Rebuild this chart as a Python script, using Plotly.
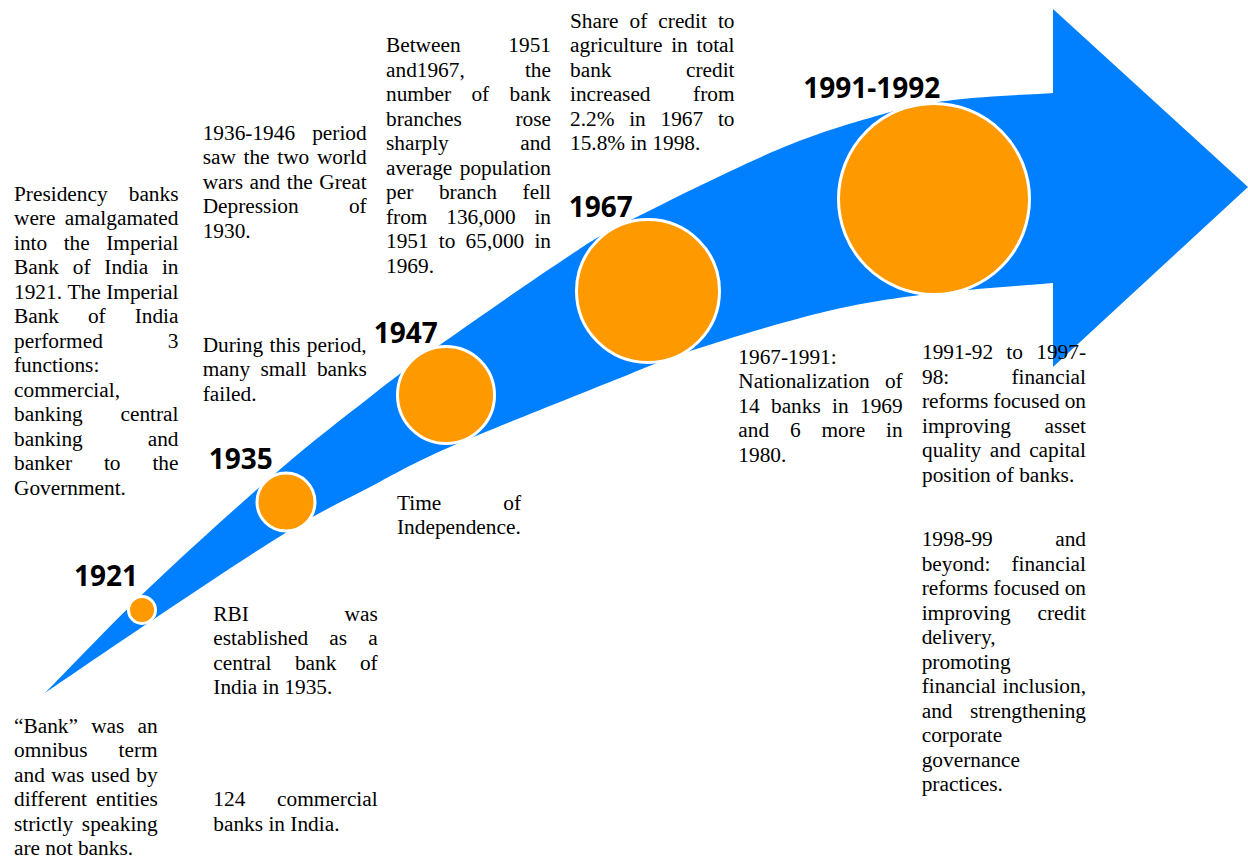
import plotly.graph_objects as go

# ---------------- data ----------------
years = ["1921", "1935", "1947", "1967", "1991-1992"]

presidency_lines = ["Presidency banks", "were amalgamated", "into the Imperial", "Bank of India in",
                    "1921. The Imperial", "Bank of India", "performed 3", "functions:", "commercial,",
                    "banking central", "banking and", "banker to the", "Government."]
bank_term_lines = ["\u201cBank\u201d was an", "omnibus term", "and was used by", "different entities",
                   "strictly speaking", "are not banks."]
wars_lines = ["1936-1946 period", "saw the two world", "wars and the Great", "Depression of", "1930."]
failed_lines = ["During this period,", "many small banks", "failed."]
rbi_lines = ["RBI was", "established as a", "central bank of", "India in 1935."]
commercial_lines = ["124 commercial", "banks in India."]
branches_lines = ["Between 1951", "and1967, the", "number of bank", "branches rose", "sharply and",
                  "average population", "per branch fell", "from 136,000 in", "1951 to 65,000 in", "1969."]
independence_lines = ["Time of", "Independence."]
agri_lines = ["Share of credit to", "agriculture in total", "bank credit", "increased from",
              "2.2% in 1967 to", "15.8% in 1998."]
national_lines = ["1967-1991:", "Nationalization of", "14 banks in 1969", "and 6 more in", "1980."]
reform1_lines = ["1991-92 to 1997-", "98: financial", "reforms focused on", "improving asset",
                 "quality and capital", "position of banks."]
reform2_lines = ["1998-99 and", "beyond: financial", "reforms focused on", "improving credit",
                 "delivery,", "promoting", "financial inclusion,", "and strengthening", "corporate",
                 "governance", "practices."]

# ---------------- layout / styling (pixel space) ----------------
W_PX, H_PX = 1248, 861
BLUE = "#0080FF"
ORANGE = "#FF9900"
BODY_FONT = "Liberation Serif, Times New Roman, serif"
BODY_SIZE = 21.33
LINE_STEP = 24.5
YEAR_FONT = "Open Sans, sans-serif"
YEAR_SIZE = 28

circle_pos = [(142, 610), (286, 502), (446, 395), (648, 291), (934, 199)]
circle_outer = [30, 61, 100, 146, 194]
year_label_pos = [(106, 586), (240.8, 469.3), (405.8, 343.3), (600.8, 216.7), (871.7, 98.3)]  # baselines

# (lines, left, right, first baseline)
blocks = [
    (presidency_lines, 14, 178.5, 200.7),
    (bank_term_lines, 14, 157.7, 733),
    (wars_lines, 202.7, 366.7, 140),
    (failed_lines, 202.7, 366.7, 352),
    (rbi_lines, 213.3, 377.7, 620.6),
    (commercial_lines, 213.3, 377.7, 806.5),
    (branches_lines, 386, 551, 52.3),
    (independence_lines, 397, 521, 510),
    (agri_lines, 570, 734.5, 27.8),
    (national_lines, 738.3, 902.7, 364),
    (reform1_lines, 922, 1086, 359.5),
    (reform2_lines, 921.7, 1086, 546.5),
]

# arrow outline (pixel space)
arrow_upper = [(45, 693), (150, 587), (277, 472), (370, 397), (437, 347), (563, 260), (627, 222),
               (777, 150), (880, 115), (953, 100), (1053, 93)]
arrow_lower = [(45, 693), (157, 617), (287, 532), (370, 487), (450, 447), (620, 378), (693, 350),
               (820, 313), (920, 295), (1053, 283)]
head = [(1053, 9), (1248, 187), (1053, 367)]

# Times New Roman advance widths (em)
CW = {' ': .25, 'a': .444, 'b': .5, 'c': .444, 'd': .5, 'e': .444, 'f': .333, 'g': .5, 'h': .5, 'i': .278,
      'j': .278, 'k': .5, 'l': .278, 'm': .778, 'n': .5, 'o': .5, 'p': .5, 'q': .5, 'r': .333, 's': .389,
      't': .278, 'u': .5, 'v': .5, 'w': .722, 'x': .5, 'y': .5, 'z': .444,
      'A': .722, 'B': .667, 'C': .667, 'D': .722, 'E': .611, 'F': .556, 'G': .722, 'H': .722, 'I': .333,
      'J': .389, 'K': .722, 'L': .611, 'M': .889, 'N': .722, 'O': .722, 'P': .556, 'Q': .722, 'R': .667,
      'S': .556, 'T': .611, 'U': .722, 'V': .722, 'W': .944, 'X': .722, 'Y': .722, 'Z': .611,
      '.': .25, ',': .25, ':': .278, '-': .333, '%': .833, '\u201c': .444, '\u201d': .444}


def text_w(s):
    return sum(CW.get(c, .5) for c in s) * BODY_SIZE


def cr_path(pts):
    """Smooth path through points (Catmull-Rom as cubic Beziers), without the initial move."""
    segs = []
    n = len(pts)
    for i in range(n - 1):
        p0 = pts[i - 1] if i > 0 else pts[i]
        p1 = pts[i]
        p2 = pts[i + 1]
        p3 = pts[i + 2] if i + 2 < n else pts[i + 1]
        c1 = (p1[0] + (p2[0] - p0[0]) / 6, p1[1] + (p2[1] - p0[1]) / 6)
        c2 = (p2[0] - (p3[0] - p1[0]) / 6, p2[1] - (p3[1] - p1[1]) / 6)
        segs.append(f"C {c1[0]:.2f},{c1[1]:.2f} {c2[0]:.2f},{c2[1]:.2f} {p2[0]:.2f},{p2[1]:.2f}")
    return " ".join(segs)


path = f"M {arrow_upper[0][0]},{arrow_upper[0][1]} " + cr_path(arrow_upper)
for hx, hy in head:
    path += f" L {hx},{hy}"
low_rev = arrow_lower[::-1]
path += f" L {low_rev[0][0]},{low_rev[0][1]} " + cr_path(low_rev) + " Z"

# word placement (justified like the source document)
sx, sy, st = [], [], []  # start anchored
ex, ey, et = [], [], []  # end anchored
shift = 0.25 * BODY_SIZE
for lines, left, right, base0 in blocks:
    for i, line in enumerate(lines):
        y = base0 + i * LINE_STEP - shift
        words = line.split()
        if i == len(lines) - 1 or len(words) == 1:
            sx.append(left); sy.append(y); st.append(line)
            continue
        widths = [text_w(w) for w in words]
        gap = (right - left - sum(widths)) / (len(words) - 1)
        x = left
        for k, w in enumerate(words):
            if k == len(words) - 1:
                ex.append(right); ey.append(y); et.append(w)
            else:
                sx.append(x); sy.append(y); st.append(w)
            x += widths[k] + gap

fig = go.Figure()
fig.add_shape(type="path", path=path, fillcolor=BLUE, line=dict(width=0), layer="below",
              xref="x", yref="y")

fig.add_trace(go.Scatter(
    x=[p[0] for p in circle_pos], y=[p[1] for p in circle_pos], mode="markers",
    marker=dict(size=[d - 3 for d in circle_outer], color=ORANGE, line=dict(color="white", width=3),
                opacity=1),
    hoverinfo="skip", cliponaxis=False, showlegend=False))

fig.add_trace(go.Scatter(
    x=[p[0] for p in year_label_pos], y=[p[1] - 0.25 * YEAR_SIZE for p in year_label_pos],
    mode="text", text=years, textposition="middle center",
    textfont=dict(family=YEAR_FONT, size=YEAR_SIZE, color="#000000", weight=700),
    hoverinfo="skip", cliponaxis=False, showlegend=False))

fig.add_trace(go.Scatter(
    x=sx, y=sy, mode="text", text=st, textposition="middle right",
    textfont=dict(family=BODY_FONT, size=BODY_SIZE, color="#000000"),
    hoverinfo="skip", cliponaxis=False, showlegend=False))
fig.add_trace(go.Scatter(
    x=ex, y=ey, mode="text", text=et, textposition="middle left",
    textfont=dict(family=BODY_FONT, size=BODY_SIZE, color="#000000"),
    hoverinfo="skip", cliponaxis=False, showlegend=False))

fig.update_layout(
    width=W_PX, height=H_PX, margin=dict(l=0, r=0, t=0, b=0),
    paper_bgcolor="white", plot_bgcolor="white", showlegend=False,
    xaxis=dict(range=[0, W_PX], visible=False, fixedrange=True),
    yaxis=dict(range=[H_PX, 0], visible=False, fixedrange=True),
)

fig.write_html("out.html", config={"displayModeBar": False},
               post_script="document.body.style.margin='0';document.body.style.overflow='hidden';")
